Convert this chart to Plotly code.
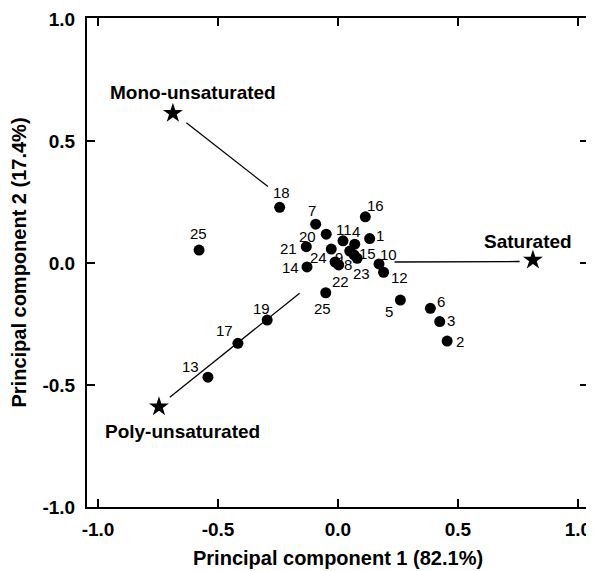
import plotly.graph_objects as go

# Sample scores (PC1, PC2) and labels
sample_labels = ["1", "2", "3", "4", "5", "6", "7", "8", "9", "10", "11", "12", "13",
                 "14", "15", "16", "17", "18", "19", "20", "21", "22", "23", "24", "25", "25"]
pc1 = [0.132, 0.455, 0.424, 0.070, 0.260, 0.385, -0.093, 0.003, 0.049, 0.171, 0.021, 0.190, -0.542,
       -0.129, 0.080, 0.114, -0.417, -0.243, -0.295, -0.049, -0.132, -0.012, 0.067, -0.028, -0.579, -0.051]
pc2 = [0.100, -0.320, -0.240, 0.077, -0.152, -0.186, 0.159, -0.008, 0.049, -0.004, 0.091, -0.038, -0.468,
       -0.016, 0.019, 0.189, -0.329, 0.228, -0.234, 0.118, 0.067, 0.004, 0.033, 0.057, 0.053, -0.122]
# label offsets in pixels (dx right, dy down)
label_dx = [10, 13, 11, 1, -11, 11, -4, 9, -11, 9, 1, 16, -17,
            -17, 10, 10, -13, 2, -6, -19, -18, 5, 7, -13, -1, -3]
label_dy = [-3, 0, -1, -13, 11, -7, -14, 0, 6, -9, -11, 5, -11,
            1, -5, -11, -13, -15, -12, 2, 2, 19, 19, 8, -17, 16]

# Fatty-acid class loadings
class_names = ["Mono-unsaturated", "Saturated", "Poly-unsaturated"]
class_pc1 = [-0.688, 0.8125, -0.746]
class_pc2 = [0.614, 0.012, -0.589]
class_text_x = [-0.604, 0.792, -0.646]
class_text_y = [0.698, 0.087, -0.691]

# Connecting lines (start, end)
line_x = [[-0.632, -0.292], [0.236, 0.757], [-0.701, -0.160]]
line_y = [[0.575, 0.313], [0.004, 0.006], [-0.550, -0.124]]

tick_vals = [-1.0, -0.5, 0.0, 0.5, 1.0]
tick_text = ["-1.0", "-0.5", "0.0", "0.5", "1.0"]

FONT = "Liberation Sans"

fig = go.Figure()
for lx, ly in zip(line_x, line_y):
    fig.add_trace(go.Scatter(x=lx, y=ly, mode="lines",
                             line=dict(color="black", width=1.3),
                             hoverinfo="skip", showlegend=False))

fig.add_trace(go.Scatter(x=pc1, y=pc2, mode="markers",
                         marker=dict(color="black", size=11),
                         showlegend=False))
fig.add_trace(go.Scatter(x=class_pc1, y=class_pc2, mode="markers",
                         marker=dict(color="black", size=15, symbol="star"),
                         showlegend=False))

for lab, x, y, dx, dy in zip(sample_labels, pc1, pc2, label_dx, label_dy):
    fig.add_annotation(x=x, y=y, text=lab, showarrow=False, xshift=dx, yshift=-dy,
                       font=dict(family=FONT, size=15, color="black"))

for name, x, y in zip(class_names, class_text_x, class_text_y):
    fig.add_annotation(x=x, y=y, text=name, showarrow=False,
                       font=dict(family=FONT, size=19, color="black", weight="bold"))

# Axis titles
fig.add_annotation(xref="paper", yref="paper", x=0.5, y=0, yshift=-51, showarrow=False,
                   xanchor="center", yanchor="middle",
                   text="Principal component 1 (82.1%)",
                   font=dict(family=FONT, size=20, color="black", weight="bold"))
fig.add_annotation(xref="paper", yref="paper", x=0, y=0.5, xshift=-69, showarrow=False,
                   xanchor="center", yanchor="middle",
                   textangle=-90, text="Principal component 2 (17.4%)",
                   font=dict(family=FONT, size=20, color="black", weight="bold"))

axis_common = dict(showline=True, linecolor="black", linewidth=2, mirror="ticks",
                   ticks="inside", ticklen=8, tickwidth=2, tickcolor="black",
                   showgrid=False, zeroline=False, automargin=False,
                   tickvals=tick_vals, ticktext=tick_text,
                   tickfont=dict(family=FONT, size=19, color="black", weight="bold"))

fig.update_xaxes(range=[-1.046, 1.042], ticklabelstandoff=4, **axis_common)
fig.update_yaxes(range=[-1.0, 1.004], ticklabelstandoff=6, **axis_common)

# page body adds an 8px offset, so the figure is sized to fit the window
fig.update_layout(width=586, height=563, margin=dict(l=79, r=6, t=10, b=64),
                  plot_bgcolor="white", paper_bgcolor="white")

fig.write_html("out.html")
